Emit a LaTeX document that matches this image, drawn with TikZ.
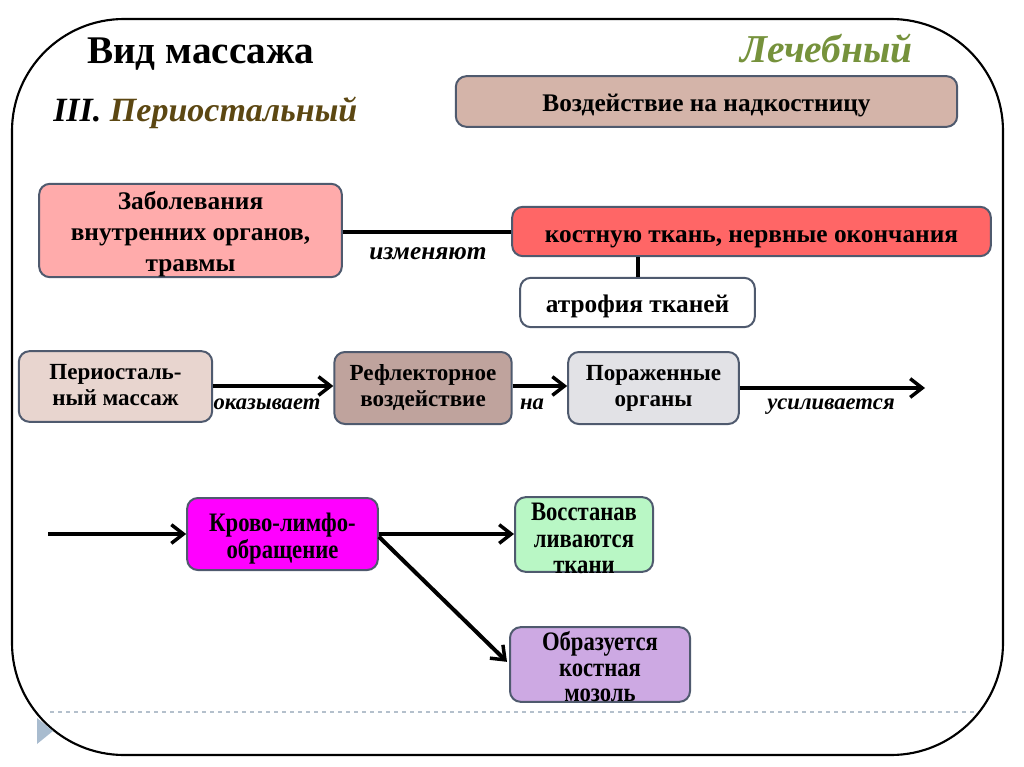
\documentclass[tikz,border=0pt]{standalone}
\usepackage{fontspec}
\setmainfont{Liberation Serif}
\usetikzlibrary{arrows.meta}
\definecolor{bordercol}{HTML}{4F5A6E}
\definecolor{c1}{HTML}{D4B4A9}
\definecolor{c2}{HTML}{FFABAB}
\definecolor{c3}{HTML}{FF6666}
\definecolor{c5}{HTML}{E8D5CF}
\definecolor{c6}{HTML}{BFA39D}
\definecolor{c7}{HTML}{E2E2E6}
\definecolor{c8}{HTML}{FF00FF}
\definecolor{c9}{HTML}{B9F7C5}
\definecolor{c10}{HTML}{CDA9E3}
\definecolor{olive}{HTML}{76923C}
\definecolor{brownt}{HTML}{5C4712}
\definecolor{dashc}{HTML}{B4C0CC}
\definecolor{trianc}{HTML}{A9BCCF}
\tikzset{
  box/.style={draw=bordercol, line width=1.5pt, rounded corners=8pt, align=center, inner sep=0pt,
    font=\bfseries\fontsize{19}{23.25}\selectfont},
  midbox/.style={box, font=\bfseries\fontsize{17.3}{19.5}\selectfont},
  condbox/.style={box, font=\bfseries\fontsize{20}{20}\selectfont},
  conn/.style={line width=3pt, black},
  arr/.style={line width=3pt, black, -{Straight Barb[length=9pt,width=14pt,line width=2.6pt]}},
  lbl/.style={font=\bfseries\itshape\fontsize{17}{18}\selectfont, inner sep=0pt}
}
\newcommand{\cnd}[1]{\scalebox{0.85}[1]{#1}}
% #1: distance of last baseline below box centre, #2: lines
\newcommand{\tx}[2]{\raisebox{-#1}[0pt][0pt]{\begin{tabular}[b]{@{}c@{}}#2\end{tabular}}}
\begin{document}
\begin{tikzpicture}[x=0.75pt,y=-0.75pt]
\useasboundingbox (0,0) rectangle (1024,767);
% frame
\draw[line width=1.6pt, rounded corners=84pt] (12,19) rectangle (1003,755);
% dashed line and bullet
\draw[dashc, dashed, line width=0.8pt] (50,712) -- (975,712);
\fill[trianc] (37,718) -- (53,731) -- (37,744) -- cycle;

% titles
\node[anchor=base west, inner sep=0pt, font=\bfseries\fontsize{29.4}{30}\selectfont] (t1) at (87,64) {Вид массажа};
\node[anchor=base west, inner sep=0pt, font=\bfseries\itshape\fontsize{25.5}{28}\selectfont] (t2) at (53,121) {III. \textcolor{brownt}{Периостальный}};
\node[anchor=base east, inner sep=0pt, text=olive, font=\bfseries\itshape\fontsize{29.6}{30}\selectfont] (t3) at (913,63) {Лечебный};

% top boxes
\node[box, fill=c1, minimum width=376pt, minimum height=38pt] (b1) at (706.5,101.5) {\tx{7.3pt}{Воздействие на надкостницу}};
\node[box, fill=c2, minimum width=227pt, minimum height=70pt] (b2) at (190.5,230.5) {\tx{31pt}{Заболевания\\внутренних органов,\\травмы}};
\node[box, fill=c3, minimum width=359pt, minimum height=37pt] (b3) at (751.5,231.5) {\tx{8.5pt}{костную ткань, нервные окончания}};
\node[box, fill=white, minimum width=176pt, minimum height=37pt] (b4) at (637.5,302.5) {\tx{7.3pt}{атрофия тканей}};
\draw[conn] (b2.east |- b3.west) -- (b3.west);
\draw[conn] (b3.south -| b4.north) -- (b4.north);
\node[lbl, anchor=base, font=\bfseries\itshape\fontsize{19}{20}\selectfont] (l1) at (428,259) {изменяют};

% middle row
\node[midbox, fill=c5, minimum width=145pt, minimum height=53pt] (b5) at (115.5,386.5) {\tx{14.5pt}{Периосталь-\\ный массаж}};
\node[midbox, fill=c6, minimum width=133pt, minimum height=54pt] (b6) at (423,388) {\tx{14.2pt}{Рефлекторное\\воздействие}};
\node[midbox, fill=c7, minimum width=128pt, minimum height=54pt] (b7) at (653.5,388) {\tx{14.2pt}{Пораженные\\органы}};
\coordinate (e1) at (925,388);
\draw[arr] (b5.east |- 0,386) -- (b6.west |- 0,386);
\draw[arr] (b6.east |- 0,386) -- (b7.west |- 0,386);
\draw[arr] (b7.east |- e1) -- (e1);
\node[lbl, anchor=base] (l2) at (267,409) {оказывает};
\node[lbl, anchor=base] (l3) at (532,409) {на};
\node[lbl, anchor=base] (l4) at (831,409) {усиливается};

% bottom
\coordinate (s0) at (48,534);
\node[condbox, fill=c8, minimum width=143pt, minimum height=54pt, font=\bfseries\fontsize{20}{20.3}\selectfont] (b8) at (282.5,534) {\tx{18.7pt}{\cnd{Крово-лимфо-}\\\cnd{обращение}}};
\node[condbox, fill=c9, minimum width=103.5pt, minimum height=56pt] (b9) at (584,534.5) {\tx{29.5pt}{\cnd{Восстанав}\\\cnd{ливаются}\\\cnd{ткани}}};
\node[condbox, fill=c10, minimum width=135pt, minimum height=56pt, font=\bfseries\fontsize{20}{19.3}\selectfont] (b10) at (600,664.5) {\tx{28pt}{\cnd{Образуется}\\\cnd{костная}\\\cnd{мозоль}}};
\draw[arr] (s0) -- (b8.west |- s0);
\draw[arr] (b8.east |- s0) -- (b9.west |- s0);
\draw[arr] ([yshift=-2pt]b8.east |- s0) -- ([xshift=-1.5pt,yshift=2pt]b10.west);
\end{tikzpicture}
\end{document}
